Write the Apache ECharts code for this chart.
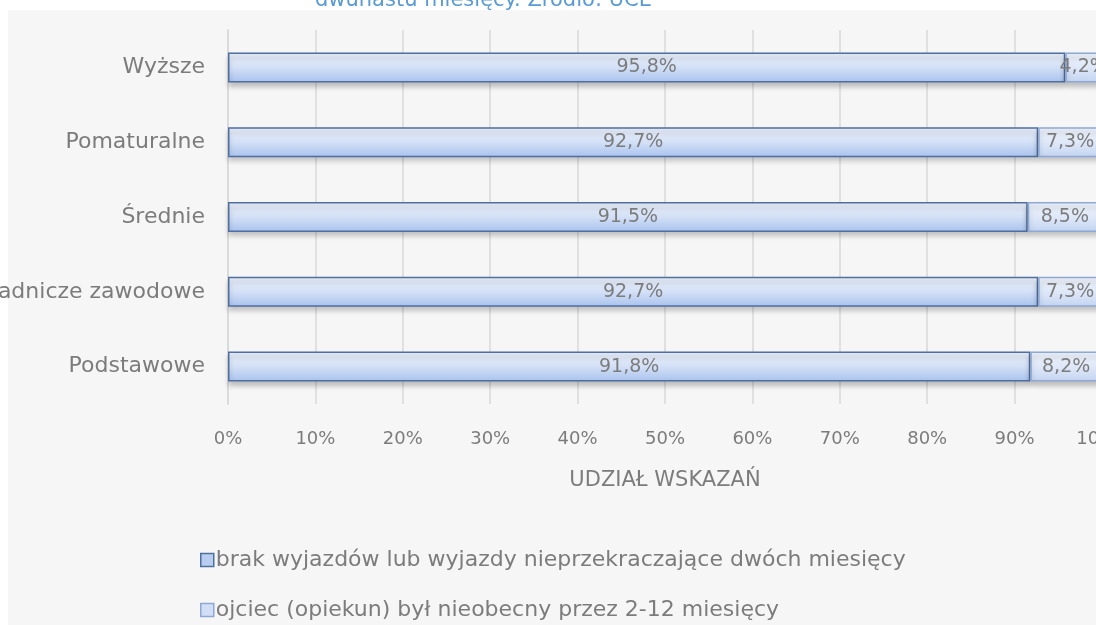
<!DOCTYPE html>
<html>
<head>
<meta charset="utf-8">
<script src="https://cdn.jsdelivr.net/npm/echarts@6/dist/echarts.min.js"></script>
<style>
  html, body { margin: 0; padding: 0; background: #ffffff; }
  #chart { width: 1096px; height: 625px; }
</style>
</head>
<body>
<div id="chart"></div>
<script>
// Education levels, bottom to top
const categories = ['Podstawowe', 'Zasadnicze zawodowe', 'Średnie', 'Pomaturalne', 'Wyższe'];
// Share of answers (%)
const noLongTrips = [91.8, 92.7, 91.5, 92.7, 95.8];
const fatherAbsent = [8.2, 7.3, 8.5, 7.3, 4.2];
const seriesNames = [
  'brak wyjazdów lub wyjazdy nieprzekraczające dwóch miesięcy',
  'ojciec (opiekun) był nieobecny przez 2-12 miesięcy'
];
const xTicks = [0, 10, 20, 30, 40, 50, 60, 70, 80, 90, 100];

const FONT = 'DejaVu Sans';
const TEXT = '#7c7c7c';

const pct = v => v.toFixed(1).replace('.', ',') + '%';

const chart = echarts.init(document.getElementById('chart'), null, { renderer: 'canvas' });

chart.setOption({
  backgroundColor: '#ffffff',
  animation: false,
  textStyle: { fontFamily: FONT },
  graphic: [
    { type: 'rect', silent: true, z: -10, shape: { x: 8, y: 10, width: 1088, height: 615 }, style: { fill: '#f6f6f6' } }
  ],
  title: {
    text: 'dwunastu miesięcy. Źródło: UCE',
    left: 310,
    top: -15,
    textStyle: { color: '#5b9bd5', fontSize: 21, fontWeight: 'normal', fontFamily: FONT }
  },
  legend: {
    orient: 'vertical',
    left: 200,
    top: 549,
    padding: 0,
    height: 80,
    itemWidth: 13,
    itemHeight: 13,
    itemGap: 28,
    icon: 'rect',
    textStyle: { color: TEXT, fontSize: 22, fontFamily: FONT, padding: [0, 0, 0, -3] },
    data: [
      { name: seriesNames[0], itemStyle: { color: '#b9cdf0', borderColor: '#4f6fa0', borderWidth: 1.5 } },
      { name: seriesNames[1], itemStyle: { color: '#d2def5', borderColor: '#8ea8d4', borderWidth: 1.5 } }
    ]
  },
  grid: { left: 228, right: -6, top: 30, bottom: 221, outerBoundsMode: 'none', containLabel: false },
  xAxis: {
    type: 'value',
    min: 0,
    max: 100,
    interval: 10,
    name: 'UDZIAŁ WSKAZAŃ',
    nameLocation: 'middle',
    nameGap: 66,
    nameTextStyle: { color: TEXT, fontSize: 21, fontFamily: FONT },
    axisLine: { show: false },
    axisTick: { show: false },
    axisLabel: {
      color: TEXT, fontSize: 18, fontFamily: FONT, margin: 26,
      formatter: v => (xTicks.includes(v) ? v + '%' : '')
    },
    splitLine: { show: true, lineStyle: { color: '#d9d9d9', width: 1.5 } }
  },
  yAxis: {
    type: 'category',
    data: categories,
    axisLine: { show: true, lineStyle: { color: '#d9d9d9', width: 1.5 } },
    axisTick: { show: false },
    axisLabel: { color: TEXT, fontSize: 22, fontFamily: FONT, margin: 23 }
  },
  series: [
    {
      name: seriesNames[0],
      type: 'bar',
      stack: 'total',
      data: noLongTrips,
      barWidth: 30,
      itemStyle: {
        color: new echarts.graphic.LinearGradient(0, 0, 0, 1, [
          { offset: 0, color: '#e9eff9' },
          { offset: 0.5, color: '#d3e0f6' },
          { offset: 1, color: '#a9c2ed' }
        ]),
        borderColor: '#4f6fa0',
        borderWidth: 1.5,
        shadowColor: 'rgba(0,0,0,0.22)',
        shadowBlur: 5,
        shadowOffsetY: 4
      },
      label: {
        show: true,
        position: 'inside',
        color: TEXT,
        fontSize: 19,
        fontFamily: FONT,
        formatter: p => pct(p.value)
      }
    },
    {
      name: seriesNames[1],
      type: 'bar',
      stack: 'total',
      data: fatherAbsent,
      barWidth: 30,
      itemStyle: {
        color: new echarts.graphic.LinearGradient(0, 0, 0, 1, [
          { offset: 0, color: '#eef3fb' },
          { offset: 0.5, color: '#dfe8f8' },
          { offset: 1, color: '#c3d4f1' }
        ]),
        borderColor: '#8ea8d4',
        borderWidth: 1.5,
        shadowColor: 'rgba(0,0,0,0.22)',
        shadowBlur: 5,
        shadowOffsetY: 4
      },
      label: {
        show: true,
        position: 'inside',
        color: TEXT,
        fontSize: 19,
        fontFamily: FONT,
        formatter: p => pct(p.value)
      }
    }
  ]
});
</script>
</body>
</html>
